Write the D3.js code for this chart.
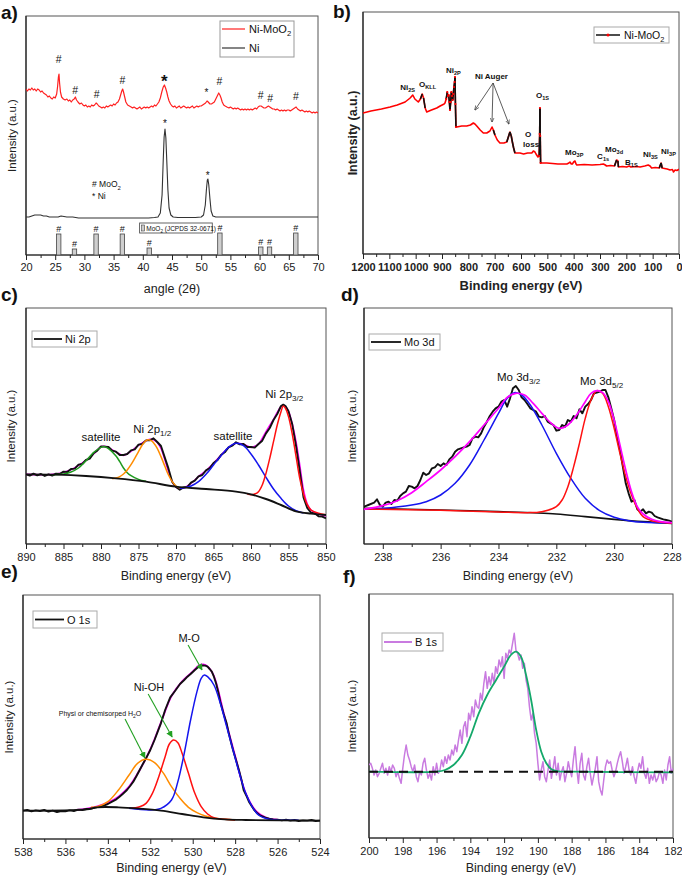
<!DOCTYPE html>
<html><head><meta charset="utf-8">
<script src="https://cdn.jsdelivr.net/npm/d3@7"></script>
<style>body{margin:0;background:#fff}svg{display:block}</style>
</head><body><script>
// ---------------- DATA ----------------
// (a) XRD  [2theta, intensity a.u.]
const xrdNiMoO2 = [[20,166],[20.25,164],[20.5,166],[20.75,165],[21,167],[21.25,165],[21.5,166],[21.75,164],[22,166],[22.25,165],[22.5,163],[22.75,164],[23,162],[23.25,161],[23.5,160],[23.75,158],[24,159],[24.25,157],[24.5,156],[24.75,158],[25,157],[25.25,161],[25.4,168],[25.55,178],[25.65,181],[25.75,172],[25.9,163],[26.1,158],[26.4,156],[26.7,155],[27,156],[27.25,154],[27.5,155],[27.75,153],[28,155],[28.25,156],[28.45,158],[28.65,155],[28.9,153],[29.2,151],[29.5,152],[29.75,150],[30,149],[30.25,150],[30.5,148],[30.75,149],[31,148],[31.25,150],[31.5,149],[31.75,150],[32,152],[32.2,151],[32.45,149],[32.75,148],[33,147],[33.25,148],[33.5,147],[33.75,149],[34,148],[34.25,149],[34.5,150],[34.75,149],[35,151],[35.25,150],[35.5,152],[35.75,153],[36,156],[36.2,160],[36.4,164],[36.55,166],[36.7,163],[36.9,158],[37.1,153],[37.4,150],[37.7,149],[38,148],[38.25,147],[38.5,148],[38.75,147],[39,146],[39.25,147],[39.5,148],[39.75,146],[40,147],[40.25,148],[40.5,147],[40.75,148],[41,147],[41.25,148],[41.5,149],[41.75,148],[42,150],[42.25,149],[42.5,151],[42.75,153],[43,157],[43.25,163],[43.5,168],[43.7,170],[43.9,167],[44.1,163],[44.3,158],[44.5,154],[44.75,151],[45,149],[45.25,148],[45.5,149],[45.75,147],[46,148],[46.25,149],[46.5,147],[46.75,148],[47,149],[47.25,148],[47.5,147],[47.75,148],[48,147],[48.25,148],[48.5,149],[48.75,147],[49,148],[49.25,149],[49.5,148],[49.75,149],[50,149],[50.25,150],[50.5,151],[50.75,152],[51,154],[51.2,153],[51.5,151],[51.75,151],[52,152],[52.25,153],[52.5,156],[52.75,159],[53,162],[53.2,160],[53.4,157],[53.6,153],[53.85,150],[54.1,149],[54.4,148],[54.75,147],[55,148],[55.25,147],[55.5,146],[55.75,147],[56,146],[56.25,147],[56.5,146],[56.75,145],[57,146],[57.25,145],[57.5,146],[57.75,145],[58,146],[58.25,145],[58.5,146],[58.75,145],[59,146],[59.25,147],[59.5,146],[59.75,148],[60,149],[60.25,149],[60.5,148],[60.75,147],[61,147],[61.25,148],[61.5,149],[61.75,148],[62,147],[62.25,146],[62.5,146],[62.75,145],[63,146],[63.25,145],[63.5,144],[63.75,145],[64,144],[64.25,145],[64.5,144],[64.75,145],[65,145],[65.25,144],[65.5,145],[65.75,146],[66,147],[66.25,148],[66.5,146],[66.75,145],[67,144],[67.25,145],[67.5,144],[67.75,143],[68,144],[68.25,143],[68.5,144],[68.75,143],[69,142],[69.25,143],[69.5,142],[69.75,143],[70,142]];
const xrdNi = [[20,38],[20.5,38],[21,39],[21.5,40],[22,40],[22.5,40],[23,39],[23.5,39],[24,38],[25,38],[25.5,38],[26,39],[27,38],[28,38],[29,37],[30,37],[32,37],[34,37],[36,37],[38,37],[40,37],[41,37],[42,37.5],[42.6,38],[43,42],[43.3,60],[43.5,95],[43.65,118],[43.8,126],[43.95,117],[44.1,95],[44.3,65],[44.5,47],[44.8,40],[45.2,38],[46,37.5],[48,37.5],[49,37.5],[50,38],[50.4,40],[50.7,50],[50.9,66],[51.05,75],[51.15,76],[51.3,70],[51.5,56],[51.7,44],[52,39],[52.5,38],[54,38],[56,38],[58,38],[60,38],[62,38],[64,38],[66,38],[68,38],[70,38]];
const refPos = [25.6,28.3,32.0,36.5,41.1,53.2,60.2,61.7,66.2];
const refHeight = [21,6,21,21,7,22,8,8,22];
const redHashMarks = [[25.6,192],[28.4,161],[32.1,157],[36.5,171],[53.1,170],[60.2,156],[61.8,153.5],[66.2,155]];
const redStarMarks = [[43.7,168.5],[50.9,159]];
const niStarMarks = [[43.8,128],[51.1,76]];
const aTicks = [20,25,30,35,40,45,50,55,60,65,70];
const aMinor = [22.5,27.5,32.5,37.5,42.5,47.5,52.5,57.5,62.5,67.5];

// (b) XPS survey [binding energy, intensity]
const survey = [[1200,141],[1170,143],[1130,145],[1097,147],[1070,149],[1040,152],[1021,156],[1011,159],[1003,155],[990,152],[982,155],[975,160],[970,156],[964,146],[958,142],[940,144],[920,146],[907,148],[892,150],[888.7,151],[884,155],[880,162],[877,158],[874.6,159],[872,152],[869.7,144],[867,152],[864.6,162],[862,158],[859.5,154],[857,160],[854.5,167],[852,172],[850.7,177],[849,150],[847,127],[844,127],[825,128],[806,128],[792,129],[781,131],[775,130],[768,128],[755,124],[743,121],[730,121],[718,123],[710,127],[705,124],[699,119],[690,114],[680,111],[665,111],[654,112],[648,117],[642,122],[637,118],[632,111],[628,106],[623,101],[614,101],[604,101],[590,100],[575,101],[559,101],[553,103],[547,102],[543,100],[535.5,97],[531,98],[529,120],[528,146],[527,118],[525.5,91],[515,91],[502,91],[480,90.5],[460,90],[440,90],[426,90],[418,91],[414,92],[409,90],[405,90],[400,92],[395,93],[391,90],[388,89],[360,89.5],[330,89],[300,89.5],[287,90],[280,89],[275,88],[260,88.5],[245,88],[237,94],[232,93],[230,87],[215,87.5],[199,87],[189,88],[183,87],[160,87.5],[148,87],[130,88],[117,89],[110,88],[104,86],[90,86.5],[75,86],[68,91],[64,86],[55,85.5],[45,85],[34,84],[25,84.5],[21,82],[15,84],[8,83.5],[0,84.7]];
const bTicks = [1200,1100,1000,900,800,700,600,500,400,300,200,100,0];
const bMinor = [1150,1050,950,850,750,650,550,450,350,250,150,50];
// labels: [BE, intensity, main, subscript]
const surveyLabels = [[1059,164,'Ni','2S'],[987,167,'O','KLL'],[885,181,'Ni','2P'],[543,156,'O','1S'],[433,99,'Mo','3P'],[311,95,'C','1s'],[281,102,'Mo','3d'],[205,89,'B','1S'],[137,97,'Ni','3S'],[68,100,'Ni','3P']];
const augerFrom = [706,171];
const augerTo = [[775,144],[710,132],[646,130]];

// (c) Ni 2p
const ni2pRaw = [[890,207],[889.5,203],[889,209],[888.5,204],[888,208],[887.5,202],[887,207],[886.5,203],[886,209],[885.5,208],[885,215],[884.5,214],[884,223],[883.5,224],[883,236],[882.5,238],[882,250],[881.5,254],[881,270],[880.5,278],[880,291],[879.5,290],[879,289],[878.5,278],[878,275],[877.5,265],[877,265],[876.5,268],[876,279],[875.5,282],[875,296],[874.5,298],[874,309],[873.5,309],[873,315],[872.5,304],[872,292],[871.5,258],[871,224],[870.5,184],[870,169],[869.5,161],[869,168],[868.5,169],[868,182],[867.5,188],[867,201],[866.5,205],[866,219],[865.5,226],[865,241],[864.5,249],[864,265],[863.5,273],[863,288],[862.5,293],[862,303],[861.5,297],[861,298],[860.5,289],[860,289],[859.5,287],[859,298],[858.5,308],[858,330],[857.5,346],[857,370],[856.5,388],[856,412],[855.7,416],[855.4,412],[855,396],[854.5,357],[854,293],[853.5,217],[853,138],[852.5,106],[852,92],[851.5,90],[851,81],[850.5,80],[850,75]];
const ni2pEnvelope = [[890,207],[886,208],[884,221],[882,249],[881,268],[880,290],[879.5,291],[879,287],[878,274],[877,264],[876,276],[875,294],[874,308],[873.5,312],[873,311],[872.5,303],[872,285],[871.5,252],[871,215],[870.5,185],[870,168],[869,166],[868,180],[867,200],[866,218],[865,240],[864,264],[863,287],[862,300],[861,297],[860,288],[859,298],[858.5,315],[858,335],[857.5,354],[857,372],[856.5,393],[856,410],[855.7,415],[855.4,410],[855,396],[854.5,358],[854,305],[853.5,235],[853,160],[852.5,118],[852,100],[851,88],[850,82]];
const ni2pBackground = [[890,207],[886,206],[882,202],[878,195],[874,185],[870,170],[866,163],[862,155],[860,147],[858,133],[856,115],[854,96],[852,89],[850,85]];
const ni2pSat1 = [[886.5,206],[885,208],[884,214],[883,226],[882,248],[881,272],[880,288],[879.5,290],[879,284],[878,262],[877.5,245],[877,226],[876.5,212],[876,203],[875,192],[874,186]];
const ni2p12 = [[878.5,194],[878,196],[877.5,200],[877,208],[876.5,220],[876,236],[875.5,255],[875,275],[874.5,295],[874,308],[873.7,311],[873.3,308],[873,302],[872.5,285],[872,260],[871.5,232],[871,205],[870.5,185],[870,172],[869.5,166]];
const ni2pSat2 = [[869.5,165],[869,166],[868,172],[867,185],[866,207],[865,235],[864,263],[863,288],[862,300],[861,293],[860,268],[859,235],[858,198],[857,163],[856,135],[855,112],[854,98],[853,91]];
const ni2p32 = [[860.5,148],[860,146],[859.5,148],[859,155],[858.5,175],[858,210],[857.5,255],[857,305],[856.5,355],[856,395],[855.7,412],[855.4,405],[855,380],[854.5,328],[854,262],[853.5,195],[853,148],[852.5,116],[852,100],[851,90],[850,86]];
const cTicks = [890,885,880,875,870,865,860,855,850];
const cMinor = [887.5,882.5,877.5,872.5,867.5,862.5,857.5,852.5];

// (d) Mo 3d
const mo3dRaw = [[238.65,110],[238.5,115],[238.3,122],[238.2,132],[238.1,115],[238,110],[237.9,122],[237.8,125],[237.7,118],[237.6,130],[237.5,128],[237.4,142],[237.3,150],[237.2,155],[237.1,172],[237,170],[236.9,165],[236.8,172],[236.7,190],[236.6,212],[236.5,205],[236.4,210],[236.3,225],[236.2,228],[236.1,238],[236,232],[235.9,240],[235.8,235],[235.7,252],[235.6,260],[235.5,275],[235.4,282],[235.3,285],[235.2,288],[235.1,290],[235,295],[234.9,315],[234.8,320],[234.7,318],[234.6,330],[234.5,350],[234.4,365],[234.3,382],[234.2,395],[234.1,405],[234,410],[233.9,425],[233.8,430],[233.7,410],[233.6,435],[233.5,465],[233.4,472],[233.3,460],[233.2,438],[233.1,430],[233,418],[232.9,405],[232.8,400],[232.7,395],[232.6,380],[232.5,378],[232.4,382],[232.3,365],[232.2,360],[232.1,355],[232,338],[231.9,340],[231.8,355],[231.7,350],[231.6,370],[231.5,365],[231.4,382],[231.3,375],[231.2,402],[231.1,390],[231,410],[230.9,418],[230.8,430],[230.7,450],[230.6,452],[230.5,455],[230.4,460],[230.3,460],[230.2,438],[230.1,405],[230,370],[229.9,320],[229.8,280],[229.7,230],[229.6,180],[229.5,150],[229.4,125],[229.3,130],[229.2,102],[229.1,95],[229,102],[228.9,90],[228.8,95],[228.7,92],[228.6,82],[228.5,78],[228.4,75],[228.3,72],[228.2,70],[228.1,68],[228,65]];
const mo3dEnvelope = [[238.65,102],[238,113],[237.5,128],[237,152],[236.5,185],[236,220],[235.5,260],[235,305],[234.5,355],[234,405],[233.7,438],[233.4,450],[233.1,445],[232.8,420],[232.5,390],[232.2,362],[231.9,345],[231.6,355],[231.3,385],[231,425],[230.8,450],[230.6,458],[230.4,452],[230.2,425],[230,370],[229.8,295],[229.6,220],[229.4,155],[229.2,110],[229,88],[228.7,72],[228.4,65],[228,62]];
const mo3dBackground = [[238.65,105],[236,100],[234,95],[232,88],[231,80],[230,72],[229,65],[228,60]];
const mo3d32 = [[238.65,103],[238,105],[237,115],[236.5,125],[236,145],[235.5,180],[235,235],[234.5,310],[234,390],[233.7,435],[233.45,452],[233.2,445],[232.9,415],[232.5,355],[232,270],[231.5,195],[231,135],[230.5,98],[230,78],[229.5,68],[229,63],[228,60]];
const mo3d52 = [[238.65,103],[236,99],[234,94],[233,92],[232.5,95],[232,110],[231.8,130],[231.6,170],[231.4,230],[231.2,300],[231,375],[230.8,430],[230.6,458],[230.4,450],[230.2,410],[230,345],[229.8,270],[229.6,200],[229.4,145],[229.2,105],[229,80],[228.7,68],[228.4,63],[228,60]];
const dTicks = [238,236,234,232,230,228];
const dMinor = [237,235,233,231,229];

// (e) O 1s
const o1sRaw = [[538,88],[537.8,90],[537.6,86],[537.4,89],[537.2,87],[537,90],[536.8,85],[536.6,88],[536.4,84],[536.2,87],[536,86],[535.8,89],[535.6,87],[535.4,91],[535.2,90],[535,93],[534.8,94],[534.6,97],[534.4,100],[534.2,103],[534,108],[533.8,115],[533.6,122],[533.45,130],[533.3,138],[533.1,150],[532.95,162],[532.8,175],[532.65,192],[532.5,210],[532.35,228],[532.2,245],[532,270],[531.8,300],[531.65,325],[531.5,350],[531.3,390],[531.06,428],[530.8,450],[530.6,468],[530.4,480],[530.25,490],[530.1,498],[529.9,510],[529.75,518],[529.65,522],[529.5,524],[529.4,523],[529.3,520],[529.2,513],[529.1,505],[529,490],[528.9,470],[528.8,445],[528.7,415],[528.55,380],[528.4,350],[528.3,320],[528.2,295],[528.1,270],[527.95,238],[527.8,205],[527.7,180],[527.6,150],[527.45,130],[527.35,115],[527.2,100],[527.1,90],[526.95,80],[526.8,73],[526.6,68],[526.4,64],[526.2,62],[526,61],[525.8,59],[525.6,61],[525.4,58],[525.2,60],[525,57],[524.8,59],[524.6,58],[524.4,60],[524.2,57],[524,58]];
const o1sEnvelope = [[535.5,90],[535,94],[534.5,101],[534,112],[533.5,130],[533,160],[532.5,210],[532,272],[531.5,352],[531,432],[530.5,476],[530,505],[529.7,524],[529.5,527],[529.3,521],[529,492],[528.5,370],[528,252],[527.5,140],[527,86],[526.5,66],[526,61]];
const o1sBackground = [[538,88],[535,92],[534.5,98],[533.5,98],[532.5,94],[531.5,88],[530.5,78],[529.5,68],[528.5,62],[527.5,60],[524,58]];
const o1sWater = [[534.8,98],[534.5,100],[534,115],[533.5,150],[533,195],[532.6,230],[532.2,242],[531.8,232],[531.4,202],[531,160],[530.6,125],[530.2,98],[529.8,82],[529.4,72],[529,66],[528.5,62],[528,60]];
const o1sNiOH = [[533,95],[532.5,100],[532.2,110],[531.9,140],[531.6,190],[531.3,250],[531.1,288],[530.9,300],[530.7,292],[530.5,260],[530.2,200],[529.9,140],[529.6,100],[529.3,78],[529,67],[528.5,62],[528,60]];
const o1sMO = [[533,95],[532,90],[531.5,95],[531,120],[530.7,175],[530.4,260],[530.1,360],[529.8,445],[529.6,485],[529.45,495],[529.3,490],[529,465],[528.7,410],[528.4,340],[528.1,270],[527.8,200],[527.5,140],[527.2,100],[526.9,75],[526.5,64],[526,60],[525,59]];
// arrows [fromBE, fromI, toBE, toI]
const o1sArrows = [[530.22,585,529.56,510],[532.1,438,530.97,309],[533.19,363,532.25,246]];
const eTicks = [538,536,534,532,530,528,526,524];
const eMinor = [537,535,533,531,529,527,525];

// (f) B 1s
const b1sRaw = [[200,225],[199.9,230],[199.8,215],[199.7,195],[199.6,210],[199.5,190],[199.4,200],[199.3,215],[199.2,230],[199.1,200],[199,215],[198.9,195],[198.8,220],[198.7,205],[198.6,225],[198.5,215],[198.4,190],[198.3,205],[198.2,185],[198.1,170],[198,215],[197.9,255],[197.8,285],[197.7,255],[197.6,240],[197.5,220],[197.4,205],[197.3,225],[197.2,190],[197.1,175],[197,205],[196.9,195],[196.8,230],[196.7,245],[196.6,210],[196.5,185],[196.4,200],[196.3,180],[196.2,220],[196.1,195],[196,230],[195.9,200],[195.8,210],[195.7,240],[195.6,220],[195.5,250],[195.4,230],[195.3,255],[195.2,240],[195.1,270],[195,255],[194.9,285],[194.8,265],[194.7,300],[194.6,330],[194.5,290],[194.4,340],[194.3,355],[194.2,310],[194.1,380],[194,360],[193.9,400],[193.8,370],[193.7,420],[193.6,400],[193.5,395],[193.4,440],[193.3,420],[193.2,470],[193.1,505],[193,455],[192.9,490],[192.8,465],[192.7,500],[192.6,470],[192.5,520],[192.4,500],[192.3,540],[192.2,520],[192.1,550],[192,485],[191.9,560],[191.8,545],[191.7,570],[191.6,560],[191.5,590],[191.4,620],[191.3,570],[191.2,560],[191.1,540],[191,555],[190.9,515],[190.8,530],[190.7,480],[190.6,455],[190.5,400],[190.4,360],[190.3,380],[190.2,320],[190.1,290],[190,230],[189.9,180],[189.8,210],[189.7,235],[189.6,190],[189.5,175],[189.4,210],[189.3,240],[189.2,185],[189.1,215],[189,250],[188.9,195],[188.8,230],[188.7,180],[188.6,205],[188.5,220],[188.4,175],[188.3,200],[188.2,235],[188.1,210],[188,190],[187.9,240],[187.8,280],[187.7,215],[187.6,170],[187.5,230],[187.4,260],[187.3,195],[187.2,180],[187.1,220],[187,245],[186.9,200],[186.8,165],[186.7,190],[186.6,215],[186.5,250],[186.4,175],[186.3,150],[186.2,135],[186.1,180],[186,220],[185.9,240],[185.8,230],[185.7,235],[185.6,210],[185.5,190],[185.4,205],[185.3,230],[185.2,250],[185.1,265],[185,235],[184.9,200],[184.8,220],[184.7,245],[184.6,210],[184.5,195],[184.4,220],[184.3,190],[184.2,170],[184.1,205],[184,230],[183.9,215],[183.8,250],[183.7,200],[183.6,185],[183.5,215],[183.4,170],[183.3,195],[183.2,180],[183.1,200],[183,175],[182.9,185],[182.8,205],[182.7,195],[182.6,170],[182.5,210],[182.4,180],[182.3,225],[182.2,250],[182.1,200],[182,215]];
const b1sFit = [[200,205],[196,205],[195.5,210],[195,225],[194.5,255],[194,310],[193.5,380],[193,435],[192.5,478],[192,520],[191.6,555],[191.3,565],[191,550],[190.7,495],[190.4,420],[190.1,330],[189.8,265],[189.5,230],[189.2,212],[188.8,206],[188,205],[182,203]];
const b1sBaseline = [[200,205],[182,205]];
const fTicks = [200,198,196,194,192,190,188,186,184,182];
const fMinor = [199,197,195,193,191,189,187,185,183];

// ---------------- DRAWING ----------------
const FONT = '"Liberation Sans", Arial, Helvetica, sans-serif';
const svg = d3.select('body').append('svg').attr('width',682).attr('height',878)
  .style('font-family',FONT);
const defs = svg.append('defs');
defs.append('marker').attr('id','arrG').attr('viewBox','0 0 10 10').attr('refX',9).attr('refY',5)
  .attr('markerWidth',6).attr('markerHeight',6).attr('orient','auto-start-reverse')
  .append('path').attr('d','M0,0 L10,5 L0,10 z').attr('fill','#22a022');
defs.append('marker').attr('id','arrK').attr('viewBox','0 0 10 10').attr('refX',9).attr('refY',5)
  .attr('markerWidth',6).attr('markerHeight',6).attr('orient','auto-start-reverse')
  .append('path').attr('d','M0,1 L10,5 L0,9').attr('fill','none').attr('stroke','#333').attr('stroke-width',1.3);

let clipId = 0;
function panel(o){
  const g = svg.append('g');
  const x = d3.scaleLinear().domain(o.xd).range([o.l,o.r]);
  const y = d3.scaleLinear().domain(o.yd).range([o.b,o.t]);
  g.append('rect').attr('x',o.l).attr('y',o.t).attr('width',o.r-o.l).attr('height',o.b-o.t)
    .attr('fill','none').attr('stroke','#555').attr('stroke-width',1);
  const gm = g.append('g').attr('transform',`translate(0,${o.b})`)
    .call(d3.axisBottom(x).tickValues(o.minor).tickSize(3).tickFormat(''));
  gm.select('.domain').remove();
  const ga = g.append('g').attr('transform',`translate(0,${o.b})`)
    .call(d3.axisBottom(x).tickValues(o.major).tickSize(5).tickPadding(o.pad||3).tickFormat(d3.format('d')));
  ga.select('.domain').remove();
  g.selectAll('.tick line').attr('stroke','#222');
  ga.selectAll('text').attr('font-size',o.tickSize||11).attr('font-weight',o.bold?'bold':'normal')
    .attr('fill','#222').style('font-family',FONT);
  g.append('line').attr('x1',o.l).attr('x2',o.r).attr('y1',o.b).attr('y2',o.b).attr('stroke','#222').attr('stroke-width',1.2);
  g.append('line').attr('x1',o.l).attr('x2',o.l).attr('y1',o.t).attr('y2',o.b).attr('stroke','#222').attr('stroke-width',1.2);
  const id = 'clip'+(clipId++);
  defs.append('clipPath').attr('id',id).append('rect').attr('x',o.l).attr('y',o.t).attr('width',o.r-o.l).attr('height',o.b-o.t);
  const plot = g.append('g').attr('clip-path',`url(#${id})`);
  g.append('text').attr('x',(o.l+o.r)/2).attr('y',o.xtY).attr('text-anchor','middle')
    .attr('font-size',o.bold?13:12.5).attr('font-weight',o.bold?'bold':'normal').attr('fill','#222').text(o.xt);
  g.append('text').attr('transform',`translate(${o.ytX},${(o.t+o.b)/2})rotate(-90)`).attr('text-anchor','middle')
    .attr('font-size',o.bold?12.5:11.5).attr('font-weight',o.bold?'bold':'normal').attr('fill','#222').text('Intensity (a.u.)');
  svg.append('text').attr('x',o.lx).attr('y',o.ly).attr('font-size',19).attr('font-weight','bold').attr('fill','#111').text(o.label);
  return {g,plot,x,y};
}
function lineGen(p,curve){return d3.line().x(d=>p.x(d[0])).y(d=>p.y(d[1])).curve(curve||d3.curveLinear);}
function draw(p,data,color,w,curve,dash){
  const path = p.plot.append('path').datum(data).attr('d',lineGen(p,curve)).attr('fill','none')
    .attr('stroke',color).attr('stroke-width',w).attr('stroke-linejoin','round');
  if(dash) path.attr('stroke-dasharray',dash);
  return path;
}
function rich(g,x,y,parts,size,opts){
  opts=opts||{};
  const t = g.append('text').attr('x',x).attr('y',y).attr('font-size',size)
    .attr('font-weight',opts.weight||'normal').attr('text-anchor',opts.anchor||'start').attr('fill',opts.fill||'#111');
  let shift=0;
  parts.forEach(p=>{
    const sub = p[1]==='sub';
    const target = sub? size*0.3:0;
    t.append('tspan').attr('dy',target-shift).attr('font-size',sub?size*0.7:size).text(p[0]);
    shift=target;
  });
  return t;
}
function legend(g,x,y,w,h,color,lw,size,lineLen,dot){
  g.append('rect').attr('x',x).attr('y',y).attr('width',w).attr('height',h).attr('fill','#fff').attr('stroke','#aaa').attr('stroke-width',1);
  g.append('line').attr('x1',x+2).attr('x2',x+2+lineLen).attr('y1',y+h/2).attr('y2',y+h/2).attr('stroke',color).attr('stroke-width',lw);
  if(dot) g.append('circle').attr('cx',x+2+lineLen/2).attr('cy',y+h/2).attr('r',1.5).attr('fill',dot);
  return g.append('text').attr('x',x+lineLen+5).attr('y',y+h/2+4).attr('font-size',size).attr('fill','#111');
}
const CC = d3.curveCatmullRom;

// ----- (a) -----
const A = panel({l:26,r:318,t:16,b:255,xd:[20,70],yd:[0,239],major:aTicks,minor:aMinor,
  xt:'angle (2θ)',xtY:293,ytX:16,label:'a)',lx:1,ly:19});
draw(A,xrdNi,'#333',1.1);
draw(A,xrdNiMoO2,'#ff2020',1.2);
A.plot.selectAll('rect.ref').data(refPos).join('rect').attr('class','ref')
  .attr('x',d=>A.x(d)-2.2).attr('width',4.4)
  .attr('y',(d,i)=>A.y(refHeight[i])).attr('height',(d,i)=>A.y(0)-A.y(refHeight[i]))
  .attr('fill','#cfcfcf').attr('stroke','#444').attr('stroke-width',0.8);
A.g.selectAll('text.refh').data(refPos).join('text').attr('class','refh')
  .attr('x',d=>A.x(d)).attr('y',(d,i)=>A.y(refHeight[i]+2)).attr('text-anchor','middle')
  .attr('font-size',9).attr('fill','#111').text('#');
A.g.selectAll('text.rh').data(redHashMarks).join('text').attr('class','rh')
  .attr('x',d=>A.x(d[0])).attr('y',d=>A.y(d[1])).attr('text-anchor','middle').attr('font-size',10.5).attr('fill','#111').text('#');
A.g.selectAll('text.rs').data(redStarMarks).join('text').attr('class','rs')
  .attr('x',d=>A.x(d[0])).attr('y',d=>A.y(d[1])).attr('text-anchor','middle')
  .attr('font-size',(d,i)=>i===0?17:10).attr('font-weight',(d,i)=>i===0?'bold':'normal').attr('fill','#111').text('*');
A.g.selectAll('text.ns').data(niStarMarks).join('text').attr('class','ns')
  .attr('x',d=>A.x(d[0])).attr('y',d=>A.y(d[1])).attr('text-anchor','middle').attr('font-size',10).attr('fill','#111').text('*');
rich(A.g,A.x(31.3),A.y(68),[['# MoO',''],['2','sub']],8.5);
rich(A.g,A.x(31.3),A.y(56),[['*  Ni','']],8.5);
A.g.append('rect').attr('x',A.x(39.45)).attr('y',A.y(32)).attr('width',A.x(51.9)-A.x(39.45)).attr('height',A.y(22)-A.y(32))
  .attr('fill','#fff').attr('stroke','#555').attr('stroke-width',0.9);
A.g.append('rect').attr('x',A.x(39.8)).attr('y',A.y(30)).attr('width',3).attr('height',6).attr('fill','#ccc').attr('stroke','#444').attr('stroke-width',0.6);
rich(A.g,A.x(40.6),A.y(24.2),[['MoO',''],['2','sub'],[' (JCPDS 32-0671)','']],6.5);
A.g.append('rect').attr('x',220).attr('y',21).attr('width',74).attr('height',36).attr('fill','#fff').attr('stroke','#999');
A.g.append('line').attr('x1',222).attr('x2',245).attr('y1',29).attr('y2',29).attr('stroke','#ff2020').attr('stroke-width',1.2);
rich(A.g,249,33,[['Ni-MoO',''],['2','sub']],11);
A.g.append('line').attr('x1',222).attr('x2',245).attr('y1',48).attr('y2',48).attr('stroke','#333').attr('stroke-width',1.2);
A.g.append('text').attr('x',249).attr('y',52).attr('font-size',11).attr('fill','#111').text('Ni');

// ----- (b) -----
const B = panel({l:363,r:679,t:12,b:254,xd:[1200,0],yd:[0,242],major:bTicks,minor:bMinor,bold:true,pad:4,
  xt:'Binding energy (eV)',xtY:290,ytX:357,label:'b)',lx:333,ly:18});
draw(B,survey,'#ff0000',1.6);
const sp = survey.map(d=>[B.x(d[0]),B.y(d[1])]);
for(let i=1;i<sp.length;i++){
  const dx=Math.abs(sp[i][0]-sp[i-1][0]), dy=Math.abs(sp[i][1]-sp[i-1][1]);
  if(dy>4 && dy>2.5*dx){
    B.plot.append('line').attr('x1',sp[i-1][0]).attr('y1',sp[i-1][1]).attr('x2',sp[i][0]).attr('y2',sp[i][1])
      .attr('stroke','#111').attr('stroke-width',1.6);
  }
}
B.plot.selectAll('circle.sp').data(survey.filter(d=>d[0]<=884&&d[0]>=847 || d[0]<=531&&d[0]>=525.5)).join('circle')
  .attr('cx',d=>B.x(d[0])).attr('cy',d=>B.y(d[1])).attr('r',1.1).attr('fill','#ff0000');
surveyLabels.forEach(d=>rich(B.g,B.x(d[0]),B.y(d[1]),[[d[2],''],[d[3],'sub']],8,{weight:'bold'}));
B.g.append('text').attr('x',B.x(775)).attr('y',B.y(175)).attr('font-size',8).attr('font-weight','bold').attr('fill','#111').text('Ni Auger');
augerTo.forEach(t=>B.g.append('line').attr('x1',B.x(augerFrom[0])).attr('y1',B.y(augerFrom[1]))
  .attr('x2',B.x(t[0])).attr('y2',B.y(t[1])).attr('stroke','#333').attr('stroke-width',0.8).attr('marker-end','url(#arrK)'));
B.g.append('text').attr('x',B.x(585)).attr('y',B.y(117)).attr('font-size',8).attr('font-weight','bold').attr('fill','#111').text('O');
B.g.append('text').attr('x',B.x(592)).attr('y',B.y(107)).attr('font-size',8).attr('font-weight','bold').attr('fill','#111').text('loss');
legend(B.g,594,27,75,16,'#111',1.5,10.5,24,'#ff0000').remove();
rich(B.g,624,39,[['Ni-MoO',''],['2','sub']],10.5);

// ----- (c) -----
const Cp = panel({l:26,r:326,t:308,b:544,xd:[890,850],yd:[-2,706],major:cTicks,minor:cMinor,pad:4,
  xt:'Binding energy (eV)',xtY:580,ytX:15,label:'c)',lx:1,ly:301});
draw(Cp,ni2pEnvelope,'#ff00ff',1.6,CC);
draw(Cp,ni2pRaw,'#111',1.9);
draw(Cp,ni2pSat1,'#1f9a1f',1.5,CC);
draw(Cp,ni2p12,'#ff8c00',1.5,CC);
draw(Cp,ni2pSat2,'#1515ee',1.5,CC);
draw(Cp,ni2p32,'#ff1010',1.5,CC);
draw(Cp,ni2pBackground,'#111',1.9,CC);
legend(Cp.g,32,331,65,16,'#111',1.8,11,28).text('Ni 2p');
Cp.g.append('text').attr('x',Cp.x(880)).attr('y',Cp.y(307)).attr('text-anchor','middle').attr('font-size',11.5).attr('fill','#111').text('satellite');
rich(Cp.g,Cp.x(875.7),Cp.y(331),[['Ni 2p',''],['1/2','sub']],11.5);
Cp.g.append('text').attr('x',Cp.x(862.4)).attr('y',Cp.y(310)).attr('text-anchor','middle').attr('font-size',11.5).attr('fill','#111').text('satellite');
rich(Cp.g,Cp.x(858.1),Cp.y(436),[['Ni 2p',''],['3/2','sub']],11.5);

// ----- (d) -----
const D = panel({l:364,r:672,t:308,b:544,xd:[238.65,228],yd:[-2,706],major:dTicks,minor:dMinor,pad:4,
  xt:'Binding energy (eV)',xtY:580,ytX:356,label:'d)',lx:341,ly:301});
draw(D,mo3dRaw,'#111',1.9);
draw(D,mo3dBackground,'#111',1.6,CC);
draw(D,mo3d32,'#1515ee',1.5,CC);
draw(D,mo3d52,'#ff1010',1.5,CC);
draw(D,mo3dEnvelope,'#ff00ff',1.7,CC);
legend(D.g,369,334,71,16,'#111',1.8,11,30).text('Mo 3d');
rich(D.g,D.x(234.05),D.y(487),[['Mo 3d',''],['3/2','sub']],11.5);
rich(D.g,D.x(231.18),D.y(475),[['Mo 3d',''],['5/2','sub']],11.5);

// ----- (e) -----
const E = panel({l:23,r:320,t:595,b:839,xd:[538,524],yd:[3,735],major:eTicks,minor:eMinor,pad:4,
  xt:'Binding energy (eV)',xtY:872,ytX:13,label:'e)',lx:1,ly:578});
draw(E,o1sEnvelope,'#ff00ff',1.8,CC);
draw(E,o1sRaw,'#111',1.9);
draw(E,o1sWater,'#ff8c00',1.5,CC);
draw(E,o1sNiOH,'#ff1010',1.5,CC);
draw(E,o1sMO,'#1515ee',1.5,CC);
draw(E,o1sBackground,'#111',1.9,CC);
legend(E.g,33,611,64,17,'#111',1.8,11,29).text('O 1s');
o1sArrows.forEach(a=>E.g.append('line').attr('x1',E.x(a[0])).attr('y1',E.y(a[1])).attr('x2',E.x(a[2])).attr('y2',E.y(a[3]))
  .attr('stroke','#22a022').attr('stroke-width',1.1).attr('marker-end','url(#arrG)'));
E.g.append('text').attr('x',E.x(530.17)).attr('y',E.y(594)).attr('text-anchor','middle').attr('font-size',11).attr('fill','#111').text('M-O');
E.g.append('text').attr('x',E.x(532.06)).attr('y',E.y(447)).attr('text-anchor','middle').attr('font-size',11).attr('fill','#111').text('Ni-OH');
rich(E.g,E.x(534.37),E.y(372),[['Physi or chemisorped H',''],['2','sub'],['O','']],7,{anchor:'middle'});

// ----- (f) -----
const F = panel({l:369,r:673,t:594,b:838,xd:[200,182],yd:[6,738],major:fTicks,minor:fMinor,pad:4,
  xt:'Binding energy (eV)',xtY:872,ytX:356,label:'f)',lx:343,ly:583});
draw(F,b1sRaw,'#c97be0',1.5);
draw(F,b1sFit,'#14a86a',1.8,CC);
draw(F,b1sBaseline,'#111',2,null,'9,6');
legend(F.g,382,633,61,18,'#c97be0',2,11,28).text('B 1s');
</script></body></html>
